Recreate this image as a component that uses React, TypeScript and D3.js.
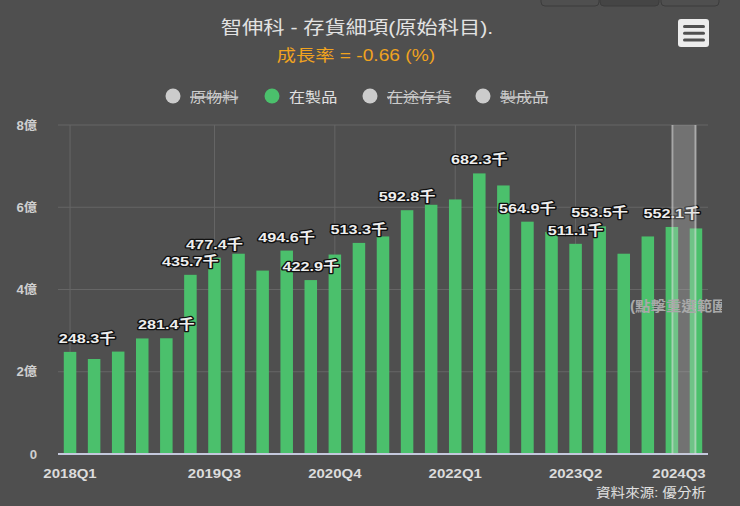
import React from "react";
import * as d3 from "d3";

const categories = [
  "2018Q1", "2018Q2", "2018Q3", "2018Q4",
  "2019Q1", "2019Q2", "2019Q3", "2019Q4",
  "2020Q1", "2020Q2", "2020Q3", "2020Q4",
  "2021Q1", "2021Q2", "2021Q3", "2021Q4",
  "2022Q1", "2022Q2", "2022Q3", "2022Q4",
  "2023Q1", "2023Q2", "2023Q3", "2023Q4",
  "2024Q1", "2024Q2", "2024Q3",
];
// 在製品 (千, axis shown in 億 = 100 units)
const wipValues = [
  248.3, 231.0, 249.0, 281.0,
  281.4, 435.7, 477.4, 487.0,
  446.0, 494.6, 422.9, 485.0,
  513.3, 529.0, 592.8, 606.0,
  619.0, 682.3, 653.0, 564.9,
  540.0, 511.1, 553.5, 487.0,
  529.0, 552.1, 548.5,
];
const labelledIdx = [0, 4, 5, 6, 9, 10, 12, 14, 17, 19, 21, 22, 25];
const xTickLabels = ["2018Q1", "2019Q3", "2020Q4", "2022Q1", "2023Q2", "2024Q3"];
const yTicks = [0, 200, 400, 600, 800];
const yTickLabels = ["0", "2億", "4億", "6億", "8億"];
const legendNames = ["原物料", "在製品", "在途存貨", "製成品"];
const legendVisible = [false, true, false, false];

const W = 740;
const H = 506;
const plotLeft = 58;
const plotRight = 708;
const plotTop = 125;
const plotBottom = 454;
const FONT = '"Liberation Sans", Arial, "Noto Sans CJK TC", sans-serif';
const BG = "#4f4f4f";
const GREEN = "#4bc06c";

function T({ x, y, sx = 1.15, anchor = "start", size = 12, weight = "normal", fill = "#ddd", children, deco, stroke }: any) {
  return (
    <text
      transform={`translate(${x},${y}) scale(${sx},1)`}
      textAnchor={anchor}
      fontSize={size}
      fontWeight={weight}
      fill={fill}
      fontFamily={FONT}
      textDecoration={deco}
      stroke={stroke}
      strokeWidth={stroke ? 2.6 : undefined}
      strokeLinejoin="round"
      style={{ paintOrder: "stroke" }}
    >
      {children}
    </text>
  );
}

export default function App() {
  const x = d3.scaleBand<string>().domain(categories).range([plotLeft, plotRight]).paddingInner(0.48).paddingOuter(0.24);
  const y = d3.scaleLinear().domain([0, 800]).range([plotBottom, plotTop]);
  const step = x.step();
  const bw = x.bandwidth();
  const cx = (c: string) => (x(c) as number) + bw / 2;

  const hlCenter = (cx(categories[25]) + cx(categories[26])) / 2;

  return (
    <svg width={W} height={H} style={{ position: "absolute", left: 0, top: 0, display: "block" }}>
      <defs>
        <clipPath id="hintClip">
          <rect x={600} y={280} width={122} height={50} />
        </clipPath>
      </defs>
      <rect x={0} y={0} width={W} height={H} fill={BG} />

      {/* top buttons (cut off) */}
      <rect x={541} y={-10} width={58} height={16} rx={4} fill={BG} stroke="#3c3c3c" />
      <rect x={600} y={-10} width={59} height={16} rx={4} fill="#454545" stroke="#3c3c3c" />
      <rect x={661} y={-10} width={58} height={16} rx={4} fill={BG} stroke="#3c3c3c" />

      {/* menu button */}
      <rect x={678} y={19} width={31} height={28} rx={3} fill="#ececec" />
      {[26.5, 33.3, 40].map((yy, i) => (
        <line key={i} x1={684.5} x2={703.5} y1={yy} y2={yy} stroke="#505050" strokeWidth={3} strokeLinecap="round" />
      ))}

      {/* title */}
      <T x={357} y={34} anchor="middle" size={18} sx={1.18} fill="#e2e2e2">智伸科 - 存貨細項(原始科目).</T>
      <T x={356} y={61} anchor="middle" size={16} sx={1.2} fill="#f0a31f">成長率 = -0.66 (%)</T>

      {/* legend */}
      {legendNames.map((n, i) => {
        const lx = [173, 272, 370, 483][i];
        const vis = legendVisible[i];
        return (
          <g key={n}>
            <circle cx={lx} cy={96} r={7.5} fill={vis ? GREEN : "#cccccc"} />
            <T x={lx + 17} y={101.5} size={14} sx={1.15} fill={vis ? "#e0e0e0" : "#cccccc"} deco={vis ? undefined : "line-through"}>
              {n}
            </T>
          </g>
        );
      })}

      {/* grid */}
      {yTicks.slice(1).map((t) => (
        <line key={t} x1={plotLeft} x2={plotRight} y1={y(t)} y2={y(t)} stroke="#666" strokeWidth={1} />
      ))}
      {xTickLabels.map((c) => (
        <line key={c} x1={cx(c)} x2={cx(c)} y1={plotTop} y2={plotBottom} stroke="#666" strokeWidth={1} />
      ))}

      {/* y labels */}
      {yTicks.map((t, i) => (
        <T key={t} x={37} y={y(t) + 4.5} anchor="end" size={12} weight="bold" sx={1.1} fill="#cfcfcf">
          {yTickLabels[i]}
        </T>
      ))}

      {/* bars */}
      {categories.map((c, i) => (
        <rect key={c} x={x(c)} y={y(wipValues[i])} width={bw} height={plotBottom - y(wipValues[i])} fill={GREEN} />
      ))}

      {/* x axis line */}
      <line x1={plotLeft} x2={plotRight} y1={plotBottom} y2={plotBottom} stroke="#c4c8dc" strokeWidth={2} />

      {/* x labels */}
      {xTickLabels.map((c) => {
        const half = 27;
        const px = Math.min(cx(c), plotRight - 2 - half);
        return (
          <T key={c} x={px} y={478} anchor="middle" size={12.5} weight="bold" sx={1.2} fill="#dcdcdc">
            {c}
          </T>
        );
      })}

      {/* data labels */}
      {labelledIdx.map((i) => {
        const c = categories[i];
        const half = 29;
        const px = Math.max(cx(c), plotLeft + half);
        return (
          <T key={c} x={px} y={y(wipValues[i]) - 9} anchor="middle" size={13.5} weight="bold" sx={1.2} fill="#eeeeee" stroke="#111">
            {wipValues[i].toFixed(1) + "千"}
          </T>
        );
      })}

      {/* crosshair band */}
      <rect x={hlCenter - step / 2} y={plotTop} width={step} height={plotBottom - plotTop} fill="rgba(205,205,205,0.28)" />
      <line x1={hlCenter - step / 2 + 0.5} x2={hlCenter - step / 2 + 0.5} y1={plotTop} y2={plotBottom} stroke="rgba(230,230,230,0.45)" strokeWidth={2} />
      <line x1={hlCenter + step / 2 - 0.5} x2={hlCenter + step / 2 - 0.5} y1={plotTop} y2={plotBottom} stroke="rgba(230,230,230,0.45)" strokeWidth={2} />

      {/* hint text */}
      <g clipPath="url(#hintClip)">
        <T x={630} y={311} size={14} weight="bold" sx={1.1} fill="#a9a9a9">(點擊重選範圍)</T>
      </g>

      {/* source */}
      <T x={706} y={497} anchor="end" size={13} sx={1.12} fill="#e0e0e0">資料來源: 優分析</T>
    </svg>
  );
}
